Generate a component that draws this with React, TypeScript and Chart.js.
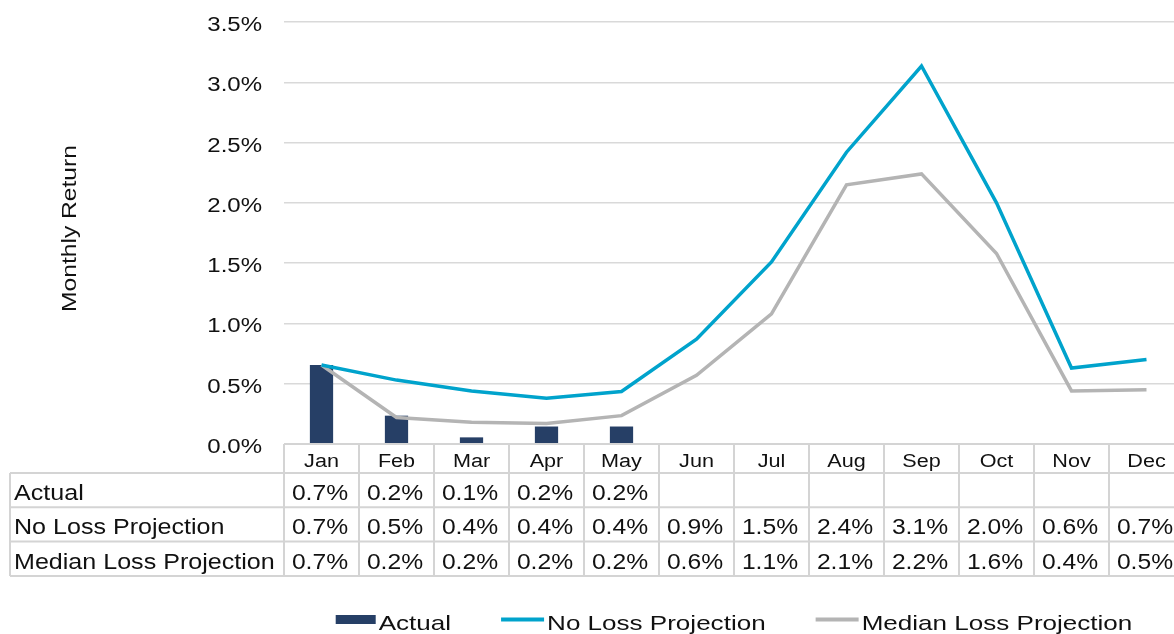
import React, { useEffect, useRef } from 'react';
import { Chart, registerables } from 'chart.js';

Chart.register(...registerables);

const months = ['Jan', 'Feb', 'Mar', 'Apr', 'May', 'Jun', 'Jul', 'Aug', 'Sep', 'Oct', 'Nov', 'Dec'];
const actual = [0.655, 0.235, 0.055, 0.145, 0.145, null, null, null, null, null, null, null];
const noLoss = [0.655, 0.53, 0.44, 0.38, 0.435, 0.87, 1.51, 2.42, 3.135, 2.0, 0.63, 0.7];
const median = [0.655, 0.22, 0.18, 0.17, 0.235, 0.57, 1.08, 2.15, 2.24, 1.58, 0.44, 0.45];

const actualTable = ['0.7%', '0.2%', '0.1%', '0.2%', '0.2%', '', '', '', '', '', '', ''];
const noLossTable = ['0.7%', '0.5%', '0.4%', '0.4%', '0.4%', '0.9%', '1.5%', '2.4%', '3.1%', '2.0%', '0.6%', '0.7%'];
const medianTable = ['0.7%', '0.2%', '0.2%', '0.2%', '0.2%', '0.6%', '1.1%', '2.1%', '2.2%', '1.6%', '0.4%', '0.5%'];

const yTitle = 'Monthly Return';

const FONT = '"Liberation Sans", Arial, Helvetica, sans-serif';
const NAVY = '#263F66';
const BLUE = '#00A3CC';
const GRAY = '#B4B4B4';
const GRID = '#D9D9D9';
const BORDER = '#D4D4D4';
const TEXT = '#111111';

Chart.defaults.font.family = FONT;
Chart.defaults.font.size = 20;

const fmtPct = (v: number) => Number(v).toFixed(1) + '%';

function drawText(
  ctx: CanvasRenderingContext2D,
  text: string,
  x: number,
  y: number,
  align: CanvasTextAlign,
  size: number,
  sx: number
) {
  ctx.save();
  ctx.translate(x, y);
  ctx.scale(sx, 1);
  ctx.font = `${size}px ${FONT}`;
  ctx.textAlign = align;
  ctx.textBaseline = 'alphabetic';
  ctx.fillText(text, 0, 0);
  ctx.restore();
}

const tablePlugin = {
  id: 'dataTableLegend',
  afterDraw(chart: any) {
    const { ctx, chartArea, scales } = chart;
    const xs = scales.x;
    const ys = scales.y;
    const n = months.length;
    const top = chartArea.bottom;
    const headH = 29;
    const rowH = 34.3;
    const head = top + headH;
    const bottom = head + 3 * rowH;
    const left = 10;
    const right = xs.getPixelForValue(n - 0.5);

    ctx.save();

    // y tick labels
    ctx.fillStyle = TEXT;
    ys.ticks.forEach((t: any) => {
      drawText(ctx, fmtPct(t.value), chartArea.left - 22, ys.getPixelForValue(t.value) + 9, 'right', 20, 1.2);
    });

    ctx.strokeStyle = BORDER;
    ctx.lineWidth = 2;
    const line = (x1: number, y1: number, x2: number, y2: number) => {
      ctx.beginPath();
      ctx.moveTo(x1, y1);
      ctx.lineTo(x2, y2);
      ctx.stroke();
    };
    line(chartArea.left, top, right, top);
    for (let r = 0; r <= 3; r++) line(left, head + r * rowH, right, head + r * rowH);
    for (let i = 0; i <= n; i++) {
      const x = xs.getPixelForValue(i - 0.5);
      line(x, top, x, bottom);
    }
    line(left, head, left, bottom);

    ctx.fillStyle = TEXT;
    for (let i = 0; i < n; i++) {
      drawText(ctx, months[i], xs.getPixelForValue(i), top + headH / 2 + 8, 'center', 18, 1.2);
    }
    const rows = [
      { label: chart.data.datasets[0].label, vals: actualTable },
      { label: chart.data.datasets[1].label, vals: noLossTable },
      { label: chart.data.datasets[2].label, vals: medianTable },
    ];
    rows.forEach((row, r) => {
      const base = head + r * rowH + rowH / 2 + 10;
      drawText(ctx, row.label, 14, base, 'left', 22, 1.14);
      row.vals.forEach((v, i) => {
        if (v) drawText(ctx, v, xs.getPixelForValue(i) - 1.5, base, 'center', 22, 1.12);
      });
    });

    // legend
    const legSize = 21;
    const legSx = 1.24;
    ctx.font = `${legSize}px ${FONT}`;
    const ds = chart.data.datasets;
    const swW = [40, 43, 43];
    const gapSw = 3;
    const gapItem = 50;
    const textW = ds.map((d: any) => ctx.measureText(d.label).width * legSx);
    let total = gapItem * (ds.length - 1);
    ds.forEach((_: any, i: number) => (total += swW[i] + gapSw + textW[i]));
    let x = (chartArea.left + chartArea.right) / 2 - total / 2;
    const legBase = 630;
    ds.forEach((d: any, i: number) => {
      if (d.type === 'bar') {
        ctx.fillStyle = d.backgroundColor;
        ctx.fillRect(x, 615, swW[i], 9);
      } else {
        ctx.strokeStyle = d.borderColor;
        ctx.lineWidth = 4;
        line(x, 619.5, x + swW[i], 619.5);
      }
      ctx.fillStyle = TEXT;
      drawText(ctx, d.label, x + swW[i] + gapSw, legBase, 'left', legSize, legSx);
      x += swW[i] + gapSw + textW[i] + gapItem;
    });

    // y axis title
    ctx.save();
    ctx.translate(76, 228.5);
    ctx.rotate(-Math.PI / 2);
    ctx.scale(1.23, 1);
    ctx.font = `20px ${FONT}`;
    ctx.fillStyle = TEXT;
    ctx.textAlign = 'center';
    ctx.textBaseline = 'alphabetic';
    ctx.fillText(yTitle, 0, 0);
    ctx.restore();

    ctx.restore();
  },
};

export default function App() {
  const ref = useRef<HTMLCanvasElement>(null);

  useEffect(() => {
    if (!ref.current) return;
    const chart = new Chart(ref.current, {
      type: 'bar',
      data: {
        labels: months,
        datasets: [
          {
            type: 'bar',
            label: 'Actual',
            data: actual,
            backgroundColor: NAVY,
            order: 3,
            categoryPercentage: 1,
            barPercentage: 0.31,
          } as any,
          {
            type: 'line',
            label: 'No Loss Projection',
            data: noLoss,
            borderColor: BLUE,
            backgroundColor: BLUE,
            borderWidth: 3.5,
            pointRadius: 0,
            tension: 0,
            order: 1,
          } as any,
          {
            type: 'line',
            label: 'Median Loss Projection',
            data: median,
            borderColor: GRAY,
            backgroundColor: GRAY,
            borderWidth: 3.5,
            pointRadius: 0,
            tension: 0,
            order: 2,
          } as any,
        ],
      },
      options: {
        responsive: false,
        animation: false,
        events: [],
        layout: { padding: { left: 0, top: 22, right: 6, bottom: 190 } },
        plugins: {
          legend: { display: false },
          tooltip: { enabled: false },
          title: { display: false },
        },
        scales: {
          x: { display: false, offset: true, grid: { display: false } },
          y: {
            min: 0,
            max: 3.5,
            border: { display: false },
            grid: { color: GRID, lineWidth: 1.5, drawTicks: false },
            ticks: {
              display: false,
              stepSize: 0.5,
              callback: (v: any) => fmtPct(v),
            },
            afterFit: (s: any) => {
              s.width = 284;
            },
          },
        },
      } as any,
      plugins: [tablePlugin],
    });
    return () => chart.destroy();
  }, []);

  return (
    <div style={{ position: 'fixed', left: 0, top: 0, width: 1174, height: 634, overflow: 'hidden', background: '#fff' }}>
      <canvas ref={ref} width={1190} height={634} style={{ width: 1190, height: 634, display: 'block' }} />
    </div>
  );
}
